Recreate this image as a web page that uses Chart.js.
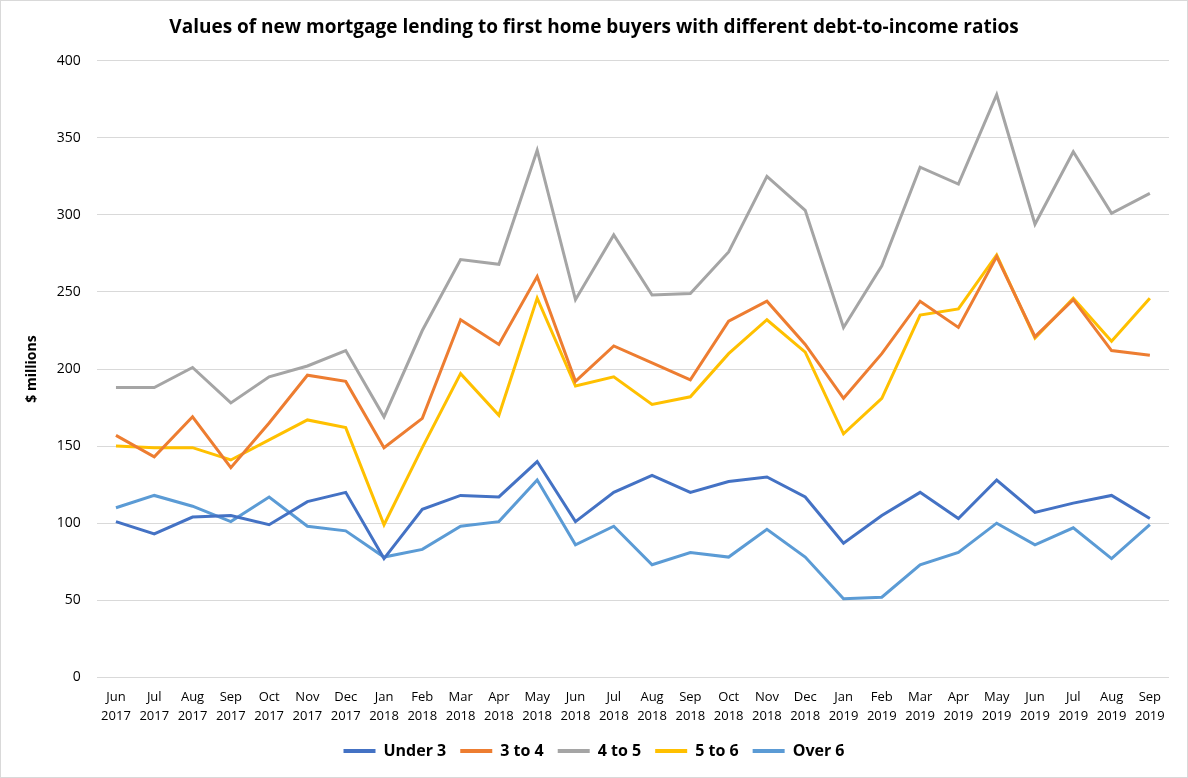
<!DOCTYPE html>
<html>
<head>
<meta charset="utf-8">
<script src="https://cdn.jsdelivr.net/npm/chart.js@4"></script>
<style>
    html, body { margin: 0; padding: 0; background: #fff; }
    .chart-box { width: 1186px; height: 776px; border: 1px solid #d9d9d9; position: relative; }
</style>
</head>
<body>
<div class="chart-box"><canvas id="myChart"></canvas></div>
<script>
"use strict"

const MONTHS = [
    ["Jun", "2017"], ["Jul", "2017"], ["Aug", "2017"], ["Sep", "2017"], ["Oct", "2017"], ["Nov", "2017"], ["Dec", "2017"],
    ["Jan", "2018"], ["Feb", "2018"], ["Mar", "2018"], ["Apr", "2018"], ["May", "2018"], ["Jun", "2018"], ["Jul", "2018"],
    ["Aug", "2018"], ["Sep", "2018"], ["Oct", "2018"], ["Nov", "2018"], ["Dec", "2018"],
    ["Jan", "2019"], ["Feb", "2019"], ["Mar", "2019"], ["Apr", "2019"], ["May", "2019"], ["Jun", "2019"], ["Jul", "2019"],
    ["Aug", "2019"], ["Sep", "2019"]
]

const under3 = [101, 93, 104, 105, 99, 114, 120, 77, 109, 118, 117, 140, 101, 120, 131, 120, 127, 130, 117, 87, 105, 120, 103, 128, 107, 113, 118, 103]
const from3to4 = [157, 143, 169, 136, 165, 196, 192, 149, 168, 232, 216, 260, 192, 215, 204, 193, 231, 244, 216, 181, 210, 244, 227, 273, 221, 245, 212, 209]
const from4to5 = [188, 188, 201, 178, 195, 202, 212, 169, 225, 271, 268, 342, 245, 287, 248, 249, 276, 325, 303, 227, 267, 331, 320, 378, 294, 341, 301, 314]
const from5to6 = [150, 149, 149, 141, 154, 167, 162, 99, 149, 197, 170, 246, 189, 195, 177, 182, 210, 232, 211, 158, 181, 235, 239, 274, 220, 246, 218, 246]
const over6 = [110, 118, 111, 101, 117, 98, 95, 78, 83, 98, 101, 128, 86, 98, 73, 81, 78, 96, 78, 51, 52, 73, 81, 100, 86, 97, 77, 99]

const Y_TICKS = { min: 0, max: 400, step: 50 }

function makeSeries(label, data, color) {
    return {
        label: label,
        data: data,
        borderColor: color,
        backgroundColor: color,
        borderWidth: 3,
        pointRadius: 0,
        tension: 0,
        fill: false,
    }
}

const datasets = [
    makeSeries("Under 3", under3, "#4472C4"),
    makeSeries("3 to 4", from3to4, "#ED7D31"),
    makeSeries("4 to 5", from4to5, "#A5A5A5"),
    makeSeries("5 to 6", from5to6, "#FFC000"),
    makeSeries("Over 6", over6, "#5B9BD5"),
]

Chart.defaults.font.family = "'Open Sans', 'Noto Sans', sans-serif"
Chart.defaults.color = "#404040"

const ctx = document.getElementById('myChart').getContext('2d')
const chart = new Chart(ctx, {
    type: 'line',
    data: {
        labels: MONTHS,
        datasets: datasets
    },
    options: {
        responsive: true,
        maintainAspectRatio: false,
        animation: false,
        layout: { padding: { left: 18, right: 18, top: 6, bottom: 8 } },
        plugins: {
            title: {
                display: true,
                text: "Values of new mortgage lending to first home buyers with different debt-to-income ratios",
                color: "#000",
                font: { size: 19, weight: 'bold' },
                padding: { top: 9, bottom: 22 }
            },
            legend: {
                position: 'bottom',
                labels: {
                    color: "#000",
                    font: { size: 16, weight: 'bold' },
                    boxWidth: 32,
                    boxHeight: 4,
                    padding: 14,
                    generateLabels: (c) => Chart.defaults.plugins.legend.labels.generateLabels(c).map(l => {
                        l.lineWidth = 0
                        return l
                    })
                }
            },
            tooltip: { enabled: false }
        },
        scales: {
            x: {
                offset: true,
                grid: { display: false },
                border: { display: false },
                ticks: { maxRotation: 0, autoSkip: false, color: "#000", font: { size: 13, lineHeight: 1.45 }, padding: 3 }
            },
            y: {
                min: Y_TICKS.min,
                max: Y_TICKS.max,
                ticks: { stepSize: Y_TICKS.step, color: "#000", font: { size: 14 }, padding: 16 },
                grid: { color: "#d9d9d9", drawTicks: false },
                border: { display: false },
                title: {
                    display: true,
                    text: "$ millions",
                    color: "#000",
                    font: { size: 14, weight: 'bold' },
                    padding: { top: 5, bottom: 0 }
                }
            }
        }
    }
})
</script>
</body>
</html>
